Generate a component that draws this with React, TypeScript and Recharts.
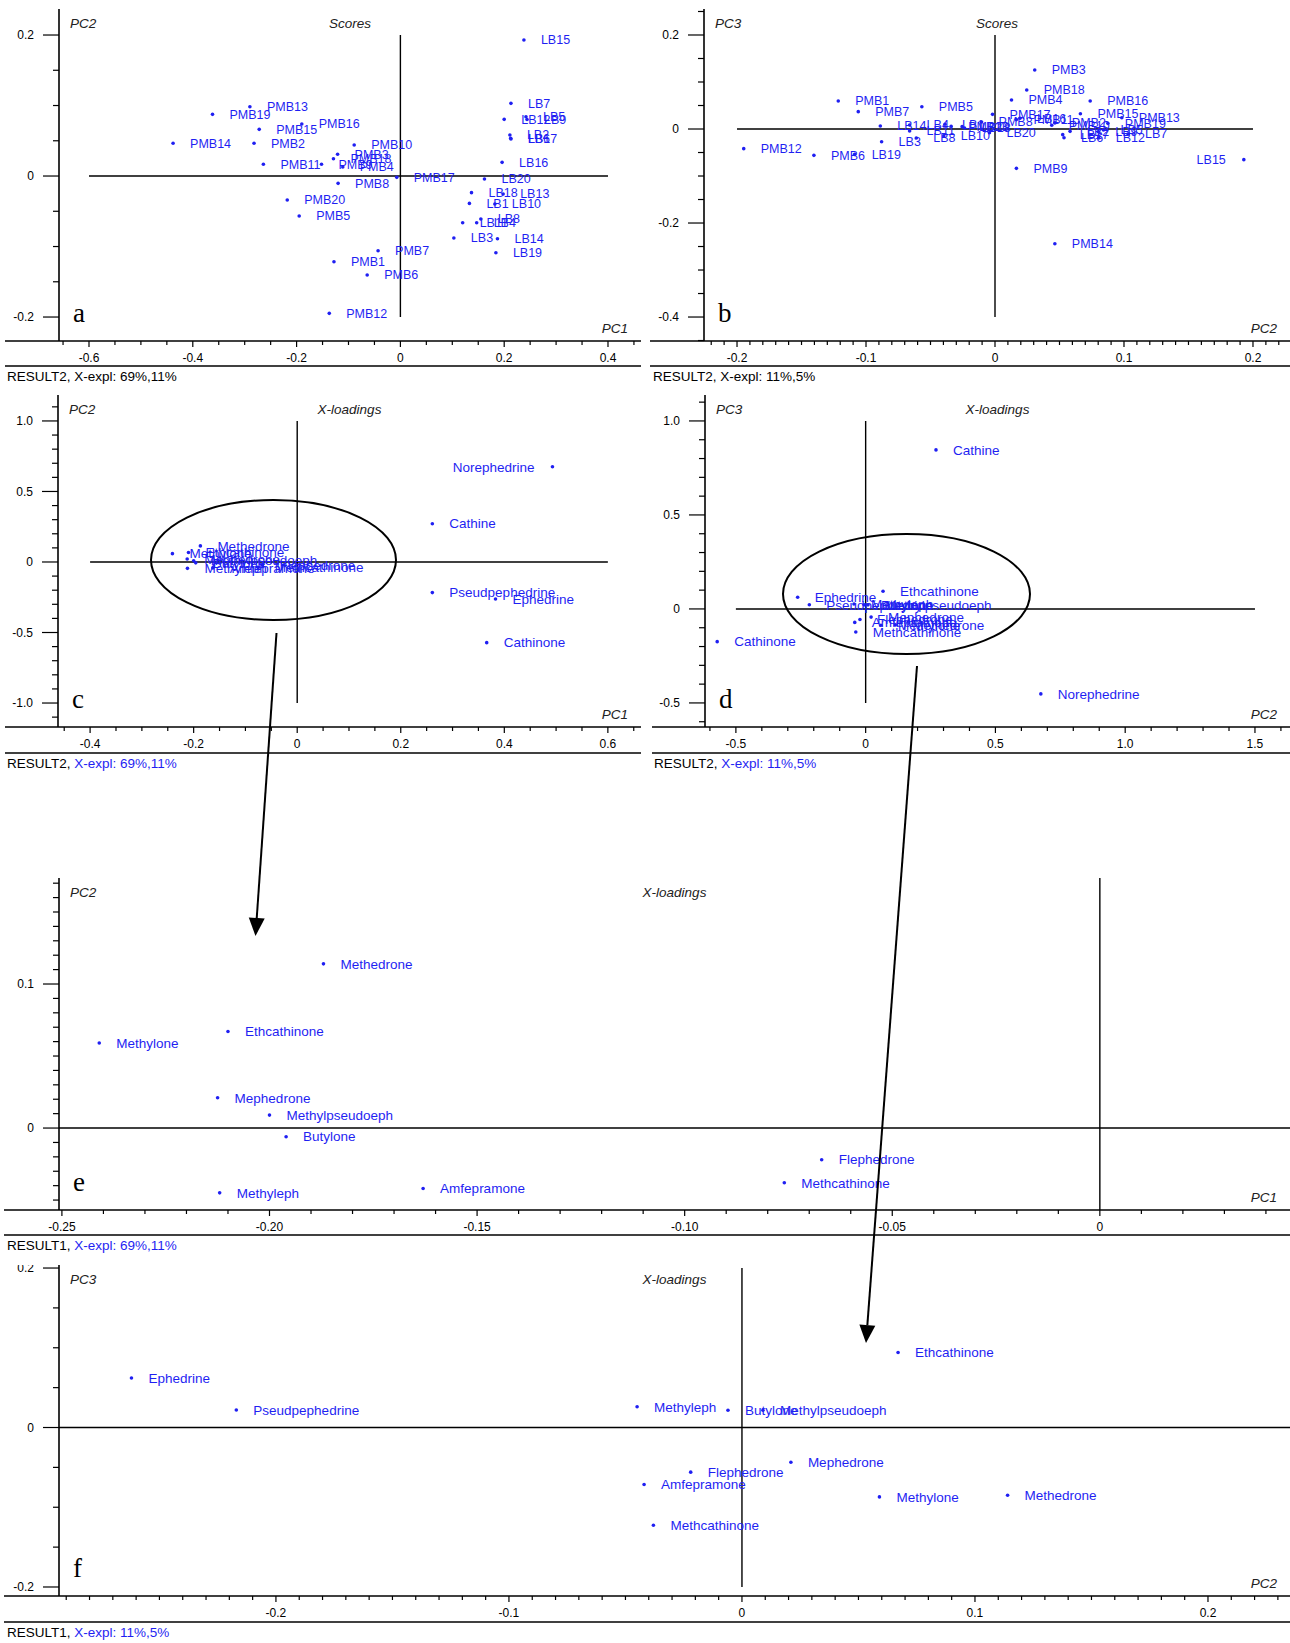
import React from "react";
import { ScatterChart, Scatter, XAxis, YAxis, ReferenceLine } from "recharts";

const BLUE = "#1f1ff2";
const INK = "#000000";
const SANS = "Arial, 'Liberation Sans', sans-serif";
const SERIF = "'Times New Roman', 'Liberation Serif', serif";

// PCA scores (samples)
const SAMPLE_NAMES = [
  "PMB1", "PMB2", "PMB3", "PMB4", "PMB5", "PMB6", "PMB7", "PMB8", "PMB9", "PMB10",
  "PMB11", "PMB12", "PMB13", "PMB14", "PMB15", "PMB16", "PMB17", "PMB18", "PMB19", "PMB20",
  "LB1", "LB2", "LB3", "LB4", "LB5", "LB6", "LB7", "LB8", "LB9", "LB10",
  "LB11", "LB12", "LB13", "LB14", "LB15", "LB16", "LB17", "LB18", "LB19", "LB20",
];
const SCORE_PC1 = [
  -0.128, -0.282, -0.121, -0.111, -0.195, -0.064, -0.043, -0.12, -0.152, -0.089,
  -0.264, -0.137, -0.29, -0.438, -0.272, -0.19, -0.007, -0.129, -0.362, -0.218,
  0.133, 0.211, 0.103, 0.147, 0.242, 0.2125, 0.213, 0.155, 0.244, 0.182,
  0.12, 0.2, 0.198, 0.187, 0.238, 0.196, 0.213, 0.137, 0.184, 0.162,
];
const SCORE_PC2 = [
  -0.1215, 0.0464, 0.0308, 0.0128, -0.0567, -0.1404, -0.106, -0.0104, 0.0166, 0.044,
  0.0166, -0.1948, 0.0983, 0.0464, 0.0662, 0.0738, -0.0019, 0.0246, 0.0875, -0.034,
  -0.0388, 0.0582, -0.0879, -0.0662, 0.0841, 0.0535, 0.1031, -0.061, 0.0801, -0.0397,
  -0.0662, 0.0804, -0.0255, -0.0889, 0.1929, 0.0194, 0.0525, -0.0236, -0.1088, -0.0043,
];
const SCORE_PC3 = [
  0.0596, 0.013, 0.1255, 0.0617, 0.0475, -0.056, 0.0369, 0.015, -0.0837, 0.008,
  0.02, -0.0418, 0.024, -0.244, 0.0326, 0.0596, 0.0312, 0.083, 0.012, 0.006,
  0.01, -0.005, -0.027, 0.0085, -0.002, -0.0185, -0.0106, -0.019, -0.006, -0.015,
  -0.004, -0.019, 0.005, 0.0064, -0.0652, 0.023, -0.012, 0.002, -0.0539, -0.008,
];

// PCA loadings (variables)
const LOADING_NAMES = [
  "Methedrone", "Ethcathinone", "Methylone", "Mephedrone", "Methylpseudoeph",
  "Butylone", "Methyleph", "Amfepramone", "Flephedrone", "Methcathinone",
  "Ephedrine", "Pseudpephedrine", "Cathine", "Norephedrine", "Cathinone",
];
const LOADING_PC1 = [-0.187, -0.21, -0.241, -0.2125, -0.2, -0.196, -0.212, -0.163, -0.067, -0.076, 0.383, 0.261, 0.261, 0.493, 0.366];
const LOADING_PC2 = [0.114, 0.067, 0.059, 0.021, 0.009, -0.006, -0.045, -0.042, -0.022, -0.038, -0.262, -0.217, 0.271, 0.675, -0.572];
const LOADING_PC3 = [-0.085, 0.094, -0.087, -0.0435, 0.0217, 0.0217, 0.026, -0.0715, -0.056, -0.1225, 0.062, 0.022, 0.846, -0.452, -0.174];

// major ticks + labels per panel
const A_XT = [-0.6, -0.4, -0.2, 0, 0.2, 0.4];
const A_XL = ["-0.6", "-0.4", "-0.2", "0", "0.2", "0.4"];
const A_YT = [-0.2, 0, 0.2];
const A_YL = ["-0.2", "0", "0.2"];
const B_XT = [-0.2, -0.1, 0, 0.1, 0.2];
const B_XL = ["-0.2", "-0.1", "0", "0.1", "0.2"];
const B_YT = [-0.4, -0.2, 0, 0.2];
const B_YL = ["-0.4", "-0.2", "0", "0.2"];
const C_XT = [-0.4, -0.2, 0, 0.2, 0.4, 0.6];
const C_XL = ["-0.4", "-0.2", "0", "0.2", "0.4", "0.6"];
const C_YT = [-1, -0.5, 0, 0.5, 1];
const C_YL = ["-1.0", "-0.5", "0", "0.5", "1.0"];
const D_XT = [-0.5, 0, 0.5, 1, 1.5];
const D_XL = ["-0.5", "0", "0.5", "1.0", "1.5"];
const D_YT = [-0.5, 0, 0.5, 1];
const D_YL = ["-0.5", "0", "0.5", "1.0"];
const E_XT = [-0.25, -0.2, -0.15, -0.1, -0.05, 0];
const E_XL = ["-0.25", "-0.20", "-0.15", "-0.10", "-0.05", "0"];
const E_YT = [0, 0.1];
const E_YL = ["0", "0.1"];
const F_XT = [-0.2, -0.1, 0, 0.1, 0.2];
const F_XL = ["-0.2", "-0.1", "0", "0.1", "0.2"];
const F_YT = [-0.2, 0, 0.2];
const F_YL = ["-0.2", "0", "0.2"];

const scores = SAMPLE_NAMES.map((name, i) => ({ name, pc1: SCORE_PC1[i], pc2: SCORE_PC2[i], pc3: SCORE_PC3[i] }));
const loadings = LOADING_NAMES.map((name, i) => ({ name, pc1: LOADING_PC1[i], pc2: LOADING_PC2[i], pc3: LOADING_PC3[i] }));
const pick = (rows: any[], kx: string, ky: string) => rows.map((r) => ({ name: r.name, x: r[kx], y: r[ky] }));

function tickRange(lo: number, hi: number, step: number) {
  const out: number[] = [];
  const s = Math.ceil(lo / step - 1e-9);
  const e = Math.floor(hi / step + 1e-9);
  for (let k = s; k <= e; k++) out.push(+(k * step).toFixed(6));
  return out;
}

const PANELS = [
  {
    key: "a", chartLeft: 0, left: 59, right: 641, top: 9, bottom: 341,
    xDomain: [-0.6578, 0.4636], yDomain: [-0.234, 0.2369], xStep: 0.05, yStep: 0.05,
    xMajor: A_XT, xLabels: A_XL, yMajor: A_YT, yLabels: A_YL,
    hSeg: [-0.6, 0.4], vSeg: [-0.2, 0.2], points: pick(scores, "pc1", "pc2"), fs: 12.5,
    title: "Scores", xName: "PC1", yName: "PC2", letter: "a",
    result: "RESULT2, ", expl: "X-expl: 69%,11%", blue: false, extX: 5, sepY: 366, capX: 7,
  },
  {
    key: "b", chartLeft: 650, left: 704, right: 1290, top: 9, bottom: 341,
    xDomain: [-0.2256, 0.2287], yDomain: [-0.451, 0.2553], xStep: 0.01, yStep: 0.05,
    xMajor: B_XT, xLabels: B_XL, yMajor: B_YT, yLabels: B_YL,
    hSeg: [-0.2, 0.2], vSeg: [-0.4, 0.2], points: pick(scores, "pc2", "pc3"), fs: 12.5,
    title: "Scores", xName: "PC2", yName: "PC3", letter: "b",
    result: "RESULT2, ", expl: "X-expl: 11%,5%", blue: false, extX: 650, sepY: 366, capX: 653,
  },
  {
    key: "c", chartLeft: 0, left: 58, right: 641, top: 395, bottom: 727,
    xDomain: [-0.462, 0.664], yDomain: [-1.17, 1.184], xStep: 0.05, yStep: 0.1,
    xMajor: C_XT, xLabels: C_XL, yMajor: C_YT, yLabels: C_YL,
    hSeg: [-0.4, 0.6], vSeg: [-1, 1], points: pick(loadings, "pc1", "pc2"), fs: 13.5,
    title: "X-loadings", xName: "PC1", yName: "PC2", letter: "c",
    result: "RESULT2, ", expl: "X-expl: 69%,11%", blue: true, extX: 5, sepY: 753, capX: 7,
  },
  {
    key: "d", chartLeft: 650, left: 705, right: 1290, top: 395, bottom: 727,
    xDomain: [-0.619, 1.635], yDomain: [-0.628, 1.138], xStep: 0.1, yStep: 0.1,
    xMajor: D_XT, xLabels: D_XL, yMajor: D_YT, yLabels: D_YL,
    hSeg: [-0.5, 1.5], vSeg: [-0.5, 1], points: pick(loadings, "pc2", "pc3"), fs: 13.5,
    title: "X-loadings", xName: "PC2", yName: "PC3", letter: "d",
    result: "RESULT2, ", expl: "X-expl: 11%,5%", blue: true, extX: 652, sepY: 753, capX: 654,
  },
  {
    key: "e", chartLeft: 0, left: 59, right: 1290, top: 878, bottom: 1210,
    xDomain: [-0.2507, 0.0458], yDomain: [-0.0569, 0.1736], xStep: 0.01, yStep: 0.01,
    xMajor: E_XT, xLabels: E_XL, yMajor: E_YT, yLabels: E_YL,
    hSeg: [-0.2507, 0.0458], vSeg: [-0.0569, 0.1736], points: pick(loadings, "pc1", "pc2"), fs: 13.5,
    title: "X-loadings", xName: "PC1", yName: "PC2", letter: "e",
    result: "RESULT1, ", expl: "X-expl: 69%,11%", blue: true, extX: 4, sepY: 1235, capX: 7,
  },
  {
    key: "f", chartLeft: 0, left: 59, right: 1290, top: 1265, bottom: 1596,
    xDomain: [-0.2931, 0.2352], yDomain: [-0.2113, 0.2038], xStep: 0.01, yStep: 0.05,
    xMajor: F_XT, xLabels: F_XL, yMajor: F_YT, yLabels: F_YL,
    hSeg: [-0.2931, 0.2352], vSeg: [-0.2, 0.2], points: pick(loadings, "pc2", "pc3"), fs: 13.5,
    title: "X-loadings", xName: "PC2", yName: "PC3", letter: "f",
    result: "RESULT1, ", expl: "X-expl: 11%,5%", blue: true, extX: 4, sepY: 1622, capX: 7,
  },
];

const majorIndex = (majors: number[], v: number) => majors.findIndex((m) => Math.abs(m - v) < 1e-6);

function XTick(props: any) {
  const { x, y, payload, majors, labels } = props;
  const i = majorIndex(majors, payload.value);
  return (
    <g>
      <line x1={x} x2={x} y1={y} y2={y + (i >= 0 ? 6 : 4)} stroke={INK} strokeWidth={1.2} />
      {i >= 0 && (
        <text x={x} y={y + 17} dy="0.35em" textAnchor="middle" fontSize={12} fontFamily={SANS} fill={INK}>
          {labels[i]}
        </text>
      )}
    </g>
  );
}

function YTick(props: any) {
  const { x, y, payload, majors, labels } = props;
  const i = majorIndex(majors, payload.value);
  return (
    <g>
      <line x1={x - (i >= 0 ? 16 : 6)} x2={x} y1={y} y2={y} stroke={INK} strokeWidth={1.2} />
      {i >= 0 && (
        <text x={x - 25} y={y} dy="0.35em" textAnchor="end" fontSize={12} fontFamily={SANS} fill={INK}>
          {labels[i]}
        </text>
      )}
    </g>
  );
}

// dot + name to its right (or left if it would run off the plot)
function Mark(props: any) {
  const { cx, cy, payload, plotW, fs } = props;
  if (cx == null || cy == null) return null;
  const name = payload.name;
  const toLeft = cx + 17 + name.length * fs * 0.58 > plotW - 15;
  return (
    <g>
      <circle cx={cx} cy={cy} r={1.8} fill={BLUE} />
      <text x={toLeft ? cx - 18 : cx + 17} y={cy} dy="0.35em" textAnchor={toLeft ? "end" : "start"}
        fontSize={fs} fontFamily={SANS} fill={BLUE}>
        {name}
      </text>
    </g>
  );
}

function Panel({ p }: { p: any }) {
  const yw = p.left - p.chartLeft;
  const w = p.right - p.chartLeft;
  const h = p.bottom - p.top + 30;
  const [x0, x1] = p.xDomain;
  const [y0, y1] = p.yDomain;
  const pts = p.points.filter((d: any) => d.x >= x0 && d.x <= x1 && d.y >= y0 && d.y <= y1);
  return (
    <div style={{ position: "absolute", left: p.chartLeft, top: p.top }}>
      <ScatterChart width={w} height={h} margin={{ top: 0, right: 0, bottom: 0, left: 0 }}>
        <XAxis type="number" dataKey="x" domain={p.xDomain} allowDataOverflow height={30}
          ticks={tickRange(x0, x1, p.xStep)} interval={0} tickSize={0} tickMargin={0} tickLine={false}
          axisLine={{ stroke: INK, strokeWidth: 1.6 }}
          tick={(t: any) => <XTick {...t} majors={p.xMajor} labels={p.xLabels} />} />
        <YAxis type="number" dataKey="y" domain={p.yDomain} allowDataOverflow width={yw}
          ticks={tickRange(y0, y1, p.yStep)} interval={0} tickSize={0} tickMargin={0} tickLine={false}
          axisLine={{ stroke: INK, strokeWidth: 1.6 }}
          tick={(t: any) => <YTick {...t} majors={p.yMajor} labels={p.yLabels} />} />
        <ReferenceLine segment={[{ x: p.hSeg[0], y: 0 }, { x: p.hSeg[1], y: 0 }]} stroke={INK} strokeWidth={1.4} />
        <ReferenceLine segment={[{ x: 0, y: p.vSeg[0] }, { x: 0, y: p.vSeg[1] }]} stroke={INK} strokeWidth={1.4} />
        <Scatter data={pts} isAnimationActive={false} shape={(s: any) => <Mark {...s} plotW={w} fs={p.fs} />} />
      </ScatterChart>
    </div>
  );
}

function Arrow({ x1, y1, x2, y2 }: { x1: number; y1: number; x2: number; y2: number }) {
  const dx = x2 - x1, dy = y2 - y1;
  const len = Math.hypot(dx, dy);
  const ux = dx / len, uy = dy / len;
  const bx = x2 - ux * 18, by = y2 - uy * 18;
  const nx = -uy * 8, ny = ux * 8;
  return (
    <g>
      <line x1={x1} y1={y1} x2={bx} y2={by} stroke={INK} strokeWidth={2} />
      <polygon points={`${x2},${y2} ${bx + nx},${by + ny} ${bx - nx},${by - ny}`} fill={INK} />
    </g>
  );
}

function Overlay() {
  return (
    <svg width={1290} height={1643} style={{ position: "absolute", left: 0, top: 0, pointerEvents: "none" }}>
      {PANELS.map((p) => (
        <g key={p.key}>
          <line x1={p.extX} x2={p.left} y1={p.bottom} y2={p.bottom} stroke={INK} strokeWidth={1.6} />
          <line x1={p.extX} x2={p.right} y1={p.sepY} y2={p.sepY} stroke={INK} strokeWidth={1.4} />
          <text x={p.left + 11} y={p.top + 14} dy="0.35em" fontSize={13.5} fontStyle="italic" fontFamily={SANS} fill="#222">{p.yName}</text>
          <text x={(p.left + p.right) / 2} y={p.top + 14} dy="0.35em" textAnchor="middle" fontSize={13.5} fontStyle="italic" fontFamily={SANS} fill="#222">{p.title}</text>
          <text x={p.right - 13} y={p.bottom - 13} dy="0.35em" textAnchor="end" fontSize={13.5} fontStyle="italic" fontFamily={SANS} fill="#222">{p.xName}</text>
          <text x={p.left + 14} y={p.bottom - 19} fontSize={27} fontFamily={SERIF} fill={INK}>{p.letter}</text>
          <text x={p.capX} y={p.sepY + 10} dy="0.35em" fontSize={13.5} fontFamily={SANS} fill={INK}>
            {p.result}
            <tspan fill={p.blue ? BLUE : INK}>{p.expl}</tspan>
          </text>
        </g>
      ))}
      <ellipse cx={273.5} cy={560} rx={122.5} ry={60} fill="none" stroke={INK} strokeWidth={2} />
      <ellipse cx={906.5} cy={594} rx={123.5} ry={60} fill="none" stroke={INK} strokeWidth={2} />
      <Arrow x1={276.5} y1={633} x2={255.5} y2={936} />
      <Arrow x1={917} y1={666} x2={866} y2={1343} />
    </svg>
  );
}

export default function App() {
  return (
    <div style={{ position: "absolute", left: 0, top: 0, width: 1290, height: 1643, background: "#fff", overflow: "hidden" }}>
      {PANELS.map((p) => (
        <Panel key={p.key} p={p} />
      ))}
      <Overlay />
    </div>
  );
}
